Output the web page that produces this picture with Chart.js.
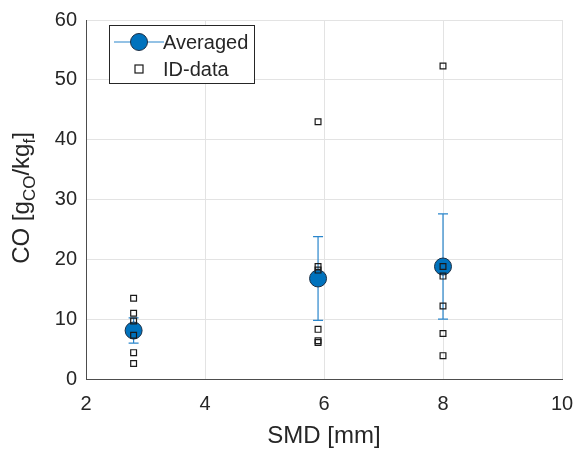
<!DOCTYPE html>
<html>
<head>
<meta charset="utf-8">
<script src="https://cdn.jsdelivr.net/npm/chart.js@4.4.1/dist/chart.umd.min.js"></script>
<style>
  html, body { margin: 0; padding: 0; background: #ffffff; }
  #wrap { position: relative; width: 579px; height: 453px; }
</style>
</head>
<body>
<div id="wrap"><canvas id="c" width="579" height="453"></canvas></div>
<script>
// Droplet size (SMD) groups and averaged CO emission index
const smdGroups = [2.8, 5.9, 8.0];
const avgCO = [8.1, 16.8, 18.8];
const errCO = [2.1, 7.0, 8.8];

// Individual measurements per group
const idSMD = [2.8, 2.8, 2.8, 2.8, 2.8, 2.8,
               5.9, 5.9, 5.9, 5.9, 5.9, 5.9,
               8.0, 8.0, 8.0, 8.0, 8.0, 8.0];
const idCO  = [13.5, 11.0, 9.7, 7.3, 4.4, 2.6,
               43.0, 18.8, 18.2, 8.3, 6.4, 6.1,
               52.3, 18.8, 17.2, 12.2, 7.6, 3.9];

const xTicks = [2, 4, 6, 8, 10];
const yTicks = [0, 10, 20, 30, 40, 50, 60];

const FONT = '"Liberation Sans", Arial, Helvetica, sans-serif';
const TXT = '#262626';
const BLUE = '#0072BD';
const BAR = '#2a86cc';

const avgPoints = smdGroups.map((x, i) => ({ x: x, y: avgCO[i], e: errCO[i] }));
const idPoints = idSMD.map((x, i) => ({ x: x, y: idCO[i] }));

// Vertical error bars with caps, drawn under the averaged markers
const errorBars = {
  id: 'errorBars',
  beforeDatasetDraw(chart, args) {
    if (args.index !== 0) return;
    const { ctx, scales: { x, y } } = chart;
    ctx.save();
    ctx.strokeStyle = BAR;
    ctx.lineWidth = 1.2;
    avgPoints.forEach(p => {
      const px = x.getPixelForValue(p.x);
      const top = y.getPixelForValue(p.y + p.e);
      const bot = y.getPixelForValue(p.y - p.e);
      ctx.beginPath();
      ctx.moveTo(px, top); ctx.lineTo(px, bot);
      ctx.moveTo(px - 5, top); ctx.lineTo(px + 5, top);
      ctx.moveTo(px - 5, bot); ctx.lineTo(px + 5, bot);
      ctx.stroke();
    });
    ctx.restore();
  }
};

// Rotated y title with subscripts, and the boxed legend inside the axes
const annotations = {
  id: 'annotations',
  afterDraw(chart) {
    const ctx = chart.ctx;
    ctx.save();
    // y-axis title
    const big = 24, small = 17;
    const parts = [
      { t: 'CO [g', s: big, dy: 0 },
      { t: 'CO', s: small, dy: 6 },
      { t: '/kg', s: big, dy: 0 },
      { t: 'f', s: small, dy: 6 },
      { t: ']', s: big, dy: 0 }
    ];
    let total = 0;
    parts.forEach(p => { ctx.font = p.s + 'px ' + FONT; p.w = ctx.measureText(p.t).width; total += p.w; });
    ctx.translate(29, 198);
    ctx.rotate(-Math.PI / 2);
    ctx.fillStyle = TXT;
    ctx.textBaseline = 'alphabetic';
    ctx.textAlign = 'left';
    let cx = -total / 2;
    parts.forEach(p => {
      ctx.font = p.s + 'px ' + FONT;
      ctx.fillText(p.t, cx, p.dy);
      cx += p.w;
    });
    ctx.restore();

    // legend
    ctx.save();
    const lx = 109, ly = 25, lw = 145, lh = 58;
    ctx.fillStyle = '#ffffff';
    ctx.fillRect(lx, ly, lw, lh);
    ctx.strokeStyle = '#262626';
    ctx.lineWidth = 1;
    ctx.strokeRect(lx + 0.5, ly + 0.5, lw, lh);
    const r1 = ly + 17, r2 = ly + 44;
    ctx.strokeStyle = BAR;
    ctx.lineWidth = 1.2;
    ctx.beginPath(); ctx.moveTo(lx + 5, r1); ctx.lineTo(lx + 55, r1); ctx.stroke();
    ctx.beginPath(); ctx.arc(lx + 30, r1, 8.5, 0, Math.PI * 2);
    ctx.fillStyle = BLUE; ctx.fill();
    ctx.strokeStyle = '#1c2f45'; ctx.lineWidth = 1; ctx.stroke();
    ctx.strokeStyle = '#1a1a1a';
    ctx.lineWidth = 1.2;
    ctx.strokeRect(lx + 26, r2 - 4, 8, 8);
    ctx.fillStyle = TXT;
    ctx.font = '20px ' + FONT;
    ctx.textBaseline = 'middle';
    ctx.textAlign = 'left';
    ctx.fillText('Averaged', lx + 54, r1 + 1);
    ctx.fillText('ID-data', lx + 54, r2 + 1);
    ctx.restore();
  }
};

new Chart(document.getElementById('c'), {
  type: 'scatter',
  data: {
    datasets: [
      {
        label: 'Averaged',
        data: avgPoints,
        order: 2,
        showLine: false,
        pointStyle: 'circle',
        pointRadius: 8.5,
        pointHoverRadius: 8.5,
        backgroundColor: BLUE,
        borderColor: '#1c2f45',
        borderWidth: 1
      },
      {
        label: 'ID-data',
        data: idPoints,
        order: 1,
        showLine: false,
        pointStyle: 'rect',
        pointRadius: 4.1,
        pointHoverRadius: 4.1,
        backgroundColor: 'rgba(0,0,0,0)',
        borderColor: '#1a1a1a',
        borderWidth: 1.2
      }
    ]
  },
  options: {
    responsive: false,
    animation: false,
    events: [],
    layout: { padding: { top: 20, right: 17, left: 0, bottom: 0 } },
    plugins: { legend: { display: false }, tooltip: { enabled: false } },
    scales: {
      x: {
        type: 'linear',
        min: 2, max: 10,
        afterBuildTicks: s => { s.ticks = xTicks.map(v => ({ value: v })); },
        afterFit: s => { s.height = 74; s.paddingLeft = 0; s.paddingRight = 0; },
        ticks: { color: TXT, font: { family: FONT, size: 20 }, padding: 13, maxRotation: 0 },
        grid: { color: '#e3e3e3', drawTicks: false },
        border: { color: '#4d4d4d', width: 1 },
        title: { display: true, text: 'SMD [mm]', color: TXT, font: { family: FONT, size: 24 }, padding: { top: 0, bottom: 2 } }
      },
      y: {
        type: 'linear',
        min: 0, max: 60,
        afterBuildTicks: s => { s.ticks = yTicks.map(v => ({ value: v })); },
        afterFit: s => { s.width = 86; s.paddingTop = 0; s.paddingBottom = 0; },
        ticks: { color: TXT, font: { family: FONT, size: 20 }, padding: 9 },
        grid: { color: '#e3e3e3', drawTicks: false },
        border: { color: '#4d4d4d', width: 1 }
      }
    }
  },
  plugins: [errorBars, annotations]
});
</script>
</body>
</html>
